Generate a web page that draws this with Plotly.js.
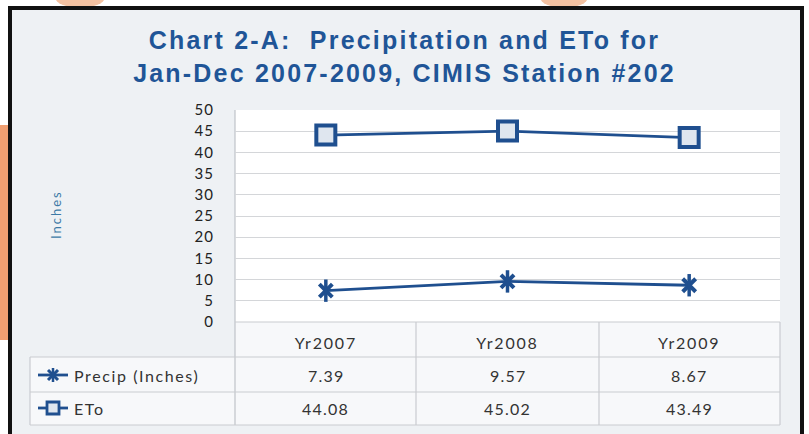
<!DOCTYPE html>
<html><head><meta charset="utf-8">
<script src="https://cdn.plot.ly/plotly-3.0.1.min.js"></script>
<style>html,body{margin:0;padding:0;background:#fff}#c{width:809px;height:434px}</style>
</head><body><div id="c"></div>
<script>
const categories = ["Yr2007", "Yr2008", "Yr2009"];
const precip = [7.39, 9.57, 8.67];
const eto = [44.08, 45.02, 43.49];
const seriesNames = ["Precip (Inches)", "ETo"];
const yTicks = [0, 5, 10, 15, 20, 25, 30, 35, 40, 45, 50];
const titleLines = ["Chart 2-A:  Precipitation and ETo for", "Jan-Dec 2007-2009, CIMIS Station #202"];
const yTitle = "Inches";

const W = 809, H = 434;
const PL = 235, PR = 780, PT = 110, PB = 322;
const navy = "#1f4f8f";
const font = "Lato, 'Open Sans', sans-serif";
const px = v => v / W;
const py = v => 1 - v / H;
const ls = (t, s) => '<span style="letter-spacing:' + s + 'px">' + t + '</span>';

const traces = [
  {x: categories, y: precip, name: seriesNames[0], type: "scatter", mode: "lines+markers",
   line: {color: navy, width: 2.8},
   marker: {symbol: "x-thin-open", size: 13, line: {color: navy, width: 4}, color: navy}},
  {x: categories, y: precip, name: seriesNames[0], type: "scatter", mode: "markers", hoverinfo: "skip",
   marker: {symbol: "line-ns-open", size: 16, line: {color: navy, width: 3.5}, color: navy}},
  {x: categories, y: eto, name: seriesNames[1], type: "scatter", mode: "lines+markers",
   line: {color: navy, width: 2.8},
   marker: {symbol: "square", size: 19, color: "#dfe6ef", line: {color: navy, width: 4}}}
];

const P = (o) => Object.assign({xref: "paper", yref: "paper"}, o);
const rect = (x0, y0, x1, y1, fill, line) => P({type: "rect", x0: px(x0), x1: px(x1), y0: py(y0), y1: py(y1),
  layer: "below", fillcolor: fill, line: line || {width: 0}});
const seg = (x0, y0, x1, y1, color, w) => P({type: "line", x0: px(x0), x1: px(x1), y0: py(y0), y1: py(y1),
  layer: "below", line: {color: color, width: w}});

const shapes = [];
// scan artifacts (orange blobs at the edges)
shapes.push(P({type: "circle", x0: px(55), x1: px(105), y0: py(8), y1: py(-14), layer: "below", fillcolor: "#f4c2a2", line: {width: 0}}));
shapes.push(P({type: "circle", x0: px(540), x1: px(588), y0: py(8), y1: py(-14), layer: "below", fillcolor: "#f4c2a2", line: {width: 0}}));
shapes.push(rect(0, 125, 8, 340, "#ef9f72"));
// frame
shapes.push(rect(10, 8, 802, 440, "#eef1f4", {color: "#111", width: 4}));
// plot area
shapes.push(rect(PL, PT, PR, PB, "#ffffff"));
shapes.push(rect(PL, PB, PR, 357, "#f7f8fa"));
shapes.push(rect(30, 357, PR, 425, "#f7f8fa"));
const gridC = "#c9ccd0";
const colX = [PL, 416, 599, PR];
colX.forEach(cx => shapes.push(seg(cx, cx === PL ? PT : PB, cx, 425, cx === PL ? "#bfc3c8" : gridC, 1.2)));
shapes.push(seg(30, 357, 30, 425, gridC, 1.2));
[357, 392, 425].forEach(ry => shapes.push(seg(30, ry, PR, ry, gridC, 1.2)));
shapes.push(seg(PL, PB, PR, PB, gridC, 1.2));
// legend keys inside the table
const keyY = [375, 408];
keyY.forEach(ky => shapes.push(seg(38, ky, 68, ky, navy, 2.8)));
shapes.push(seg(48, 370, 58, 380, navy, 3));
shapes.push(seg(48, 380, 58, 370, navy, 3));
shapes.push(seg(53, 368, 53, 382, navy, 2.5));
shapes.push(rect(47, 402, 59, 414, "#dfe6ef", {color: navy, width: 2.8}));

const annotations = [];
const rowVals = [precip, eto];
const tf = {family: font, size: 16, color: "#333"};
rowVals.forEach((vals, r) => {
  annotations.push(P({x: px(72), y: py(keyY[r]), text: ls(seriesNames[r], 1.6), showarrow: false,
    xanchor: "left", yanchor: "middle", font: tf}));
  vals.forEach((v, i) => annotations.push({xref: "x", yref: "paper", x: categories[i], y: py(keyY[r]),
    text: ls(v.toFixed(2), 1.2), showarrow: false, xanchor: "center", yanchor: "middle", font: tf}));
});
annotations.push(P({x: px(56), y: py(215), text: ls(yTitle, 2), textangle: -90, showarrow: false,
  xanchor: "center", yanchor: "middle", font: {family: font, size: 13, color: "#3d7aa6"}}));

const layout = {
  width: W, height: H,
  margin: {l: 0, r: 0, t: 0, b: 0},
  paper_bgcolor: "#ffffff",
  plot_bgcolor: "rgba(0,0,0,0)",
  showlegend: false,
  title: {text: titleLines.map(t => ls(t, 2.2)).join("<br>"),
    x: 0.5, xanchor: "center", y: py(49), yanchor: "middle",
    font: {family: "Liberation Sans, Arial, sans-serif", size: 25, color: "#1f5597", weight: "bold"}},
  xaxis: {domain: [px(PL), px(PR)], type: "category", range: [-0.5, 2.5], showgrid: false, zeroline: false,
    showline: false, ticks: "", ticklabelstandoff: 10, tickvals: categories, ticktext: categories.map(c => ls(c, 1.8)),
    tickfont: tf, fixedrange: true},
  yaxis: {domain: [py(PB), py(PT)], range: [0, 50], tickvals: yTicks, ticktext: yTicks.map(v => ls(String(v), 1)),
    showgrid: true, gridcolor: "#d4d6d9", gridwidth: 1, zeroline: false, showline: false, ticks: "",
    ticklabelstandoff: 20, tickfont: {family: font, size: 15, color: "#222"}, fixedrange: true},
  shapes: shapes,
  annotations: annotations
};
Plotly.newPlot("c", traces, layout, {displayModeBar: false, staticPlot: true});
</script></body></html>
